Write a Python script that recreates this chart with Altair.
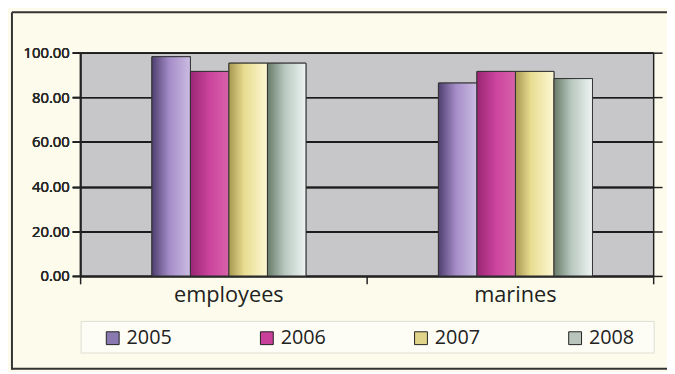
import altair as alt
import pandas as pd

categories = ["employees", "marines"]
years = ["2005", "2006", "2007", "2008"]
v2005 = [98.2, 86.4]
v2006 = [91.6, 91.6]
v2007 = [95.3, 91.6]
v2008 = [95.3, 88.4]
series = {"2005": v2005, "2006": v2006, "2007": v2007, "2008": v2008}

rows = []
for y in years:
    for c, v in zip(categories, series[y]):
        rows.append({"group": c, "year": y, "value": v})
df = pd.DataFrame(rows)

solid = ["#8a78b0", "#c8409a", "#e0d48a", "#b8c4bc"]
grad_stops = {
    "2005": [("#4e3f6e", 0), ("#a58cc8", 0.45), ("#cbbde2", 1)],
    "2006": [("#9a2674", 0), ("#cc449e", 0.5), ("#d862aa", 1)],
    "2007": [("#a89850", 0), ("#e8dc90", 0.4), ("#fdf8d4", 1)],
    "2008": [("#687c68", 0), ("#b8c8c0", 0.45), ("#eef4f2", 1)],
}

FONT = "Open Sans"

x_enc = alt.X("group:N", sort=categories, title=None,
              scale=alt.Scale(paddingInner=0, paddingOuter=0),
              axis=alt.Axis(orient="bottom", tickBand="extent", tickSize=8,
                            tickColor="#222", tickWidth=1.5,
                            domainColor="#222", domainWidth=1.5,
                            labelAngle=0, labelFontSize=22, labelFont=FONT,
                            labelFontWeight="normal", labelOffset=5,
                            labelColor="#222", labelPadding=1, grid=False))
# empty slots on either side of each group keep the bars centred in wide bands
offset_domain = ["_l"] + years + ["_r"]
xo_enc = alt.XOffset("year:N",
                     scale=alt.Scale(domain=offset_domain, paddingInner=0,
                                     paddingOuter=0.72, align=0.6))

y_left = alt.Y("value:Q", title=None,
               scale=alt.Scale(domain=[0, 100]),
               axis=alt.Axis(orient="left", values=[0, 20, 40, 60, 80, 100],
                             format=".2f", grid=True, gridColor="#1c1c1c",
                             gridWidth=1.5, domainColor="#222", domainWidth=1.5,
                             tickColor="#222", tickSize=8, tickWidth=1.5,
                             labelFontSize=15, labelFont=FONT, labelColor="#2a2a2a",
                             labelFontWeight="normal", labelPadding=3))
y_right = alt.Y("value:Q", title=None,
                scale=alt.Scale(domain=[0, 100]),
                axis=alt.Axis(orient="right", values=[0, 20, 40, 60, 80, 100],
                              labels=False, grid=False, domainColor="#222",
                              domainWidth=1.5, tickColor="#222", tickSize=9,
                              tickWidth=1.5))

base_bars = alt.Chart(df).mark_bar(stroke="#333", strokeWidth=1).encode(
    x=x_enc, xOffset=xo_enc, y=y_left,
    color=alt.Color("year:N", sort=years, title=None,
                    scale=alt.Scale(domain=years, range=solid),
                    legend=alt.Legend(orient="none", legendX=23, legendY=279,
                                      direction="horizontal", columns=4,
                                      columnPadding=86, padding=0,
                                      symbolType="square", symbolSize=169,
                                      symbolStrokeColor="#222", symbolStrokeWidth=1,
                                      labelFontSize=20, labelFont=FONT,
                                      labelFontWeight="normal",
                                      labelColor="#222", labelOffset=4)),
)

grad_layers = []
for i, y in enumerate(years):
    g = alt.Gradient(gradient="linear", x1=0, x2=1, y1=0, y2=0,
                     stops=[alt.GradientStop(color=c, offset=o) for c, o in grad_stops[y]])
    layer = alt.Chart(df).transform_filter(alt.datum.year == y).mark_bar(
        color=g, stroke="#333", strokeWidth=1
    ).encode(x=x_enc, xOffset=xo_enc, y=y_left if i < 3 else y_right)
    grad_layers.append(layer)

deco = pd.DataFrame({"a": [0]})
legend_box = alt.Chart(deco).mark_rect(fill="#fdfdf6", stroke="#dcdcd2", strokeWidth=1).encode(
    x=alt.value(1), x2=alt.value(581), y=alt.value(272), y2=alt.value(304))
frame_left = alt.Chart(deco).mark_rule(color="#333", strokeWidth=2).encode(
    x=alt.value(-69), y=alt.value(-41), y2=alt.value(321))
frame_top = alt.Chart(deco).mark_rule(color="#333", strokeWidth=2).encode(
    x=alt.value(-69), x2=alt.value(600), y=alt.value(-41))
frame_bottom = alt.Chart(deco).mark_rule(color="#333", strokeWidth=2).encode(
    x=alt.value(-69), x2=alt.value(600), y=alt.value(320))

chart = alt.layer(
    legend_box, frame_left, frame_top, frame_bottom, base_bars, *grad_layers
).resolve_scale(y="independent").resolve_axis(y="independent").properties(
    width=580, height=226,
    autosize=alt.AutoSizeParams(type="none"),
    padding={"left": 73, "top": 43, "right": 14, "bottom": 95},
    background="#fdfcec",
).configure_view(fill="#c7c7c9", stroke=None)

chart.save("out.html", embed_options={"renderer": "svg", "actions": False})
